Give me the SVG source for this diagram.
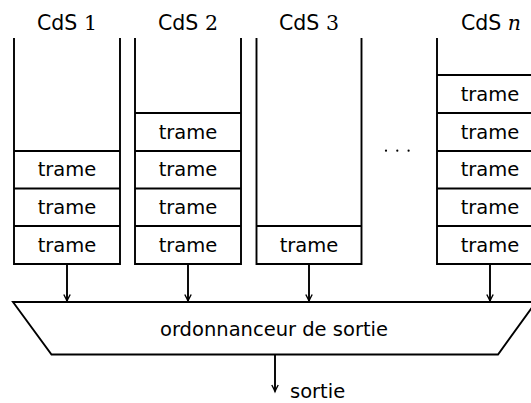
<svg xmlns="http://www.w3.org/2000/svg" width="531" height="403" viewBox="0 0 531 403">
<style>
.ln{fill:none;stroke:#000;stroke-width:1.9;stroke-linecap:butt;stroke-linejoin:miter}
.t{font-family:"DejaVu Sans",sans-serif;font-size:19.5px;fill:#000;text-anchor:middle}
.h{font-size:20.5px}
.m{font-family:"DejaVu Serif","Liberation Serif",serif}
.mi{font-family:"DejaVu Serif","Liberation Serif",serif;font-style:italic}
</style>
<defs>
<marker id="ah" markerUnits="userSpaceOnUse" markerWidth="12" markerHeight="12" viewBox="-6 -10 12 12" refX="0" refY="0" orient="auto-start-reverse" overflow="visible">
<path d="M-3.2,-6.5 Q-0.8,-2 0,0 Q0.8,-2 3.2,-6.5" fill="none" stroke="#000" stroke-width="1.4" transform="rotate(-90)"/>
</marker>
</defs>
<g id="queue1">
<text class="t h" x="67" y="30">CdS <tspan class="m">1</tspan></text>
<path class="ln" d="M14,38 V264 H120 V38"/>
<path class="ln" d="M14,151 H120 M14,188.5 H120 M14,226 H120"/>
<text class="t" x="67" y="176">trame</text>
<text class="t" x="67" y="214">trame</text>
<text class="t" x="67" y="251.5">trame</text>
</g>
<g id="queue2">
<text class="t h" x="188" y="30">CdS <tspan class="m">2</tspan></text>
<path class="ln" d="M135,38 V264 H241 V38"/>
<path class="ln" d="M135,113 H241 M135,151 H241 M135,188.5 H241 M135,226 H241"/>
<text class="t" x="188" y="138.5">trame</text>
<text class="t" x="188" y="176">trame</text>
<text class="t" x="188" y="214">trame</text>
<text class="t" x="188" y="251.5">trame</text>
</g>
<g id="queue3">
<text class="t h" x="309" y="30">CdS <tspan class="m">3</tspan></text>
<path class="ln" d="M256.5,38 V264 H361.5 V38"/>
<path class="ln" d="M256.5,226 H361.5"/>
<text class="t" x="309" y="251.5">trame</text>
</g>
<g id="dots">
<circle cx="386" cy="150.7" r="1.1"/>
<circle cx="397.3" cy="150.7" r="1.1"/>
<circle cx="408.6" cy="150.7" r="1.1"/>
</g>
<g id="queuen">
<text class="t h" x="491" y="30">CdS <tspan class="mi">n</tspan></text>
<path class="ln" d="M437,38 V264 H543 V38"/>
<path class="ln" d="M437,75 H543 M437,113 H543 M437,151 H543 M437,188.5 H543 M437,226 H543"/>
<text class="t" x="490" y="100.5">trame</text>
<text class="t" x="490" y="138.5">trame</text>
<text class="t" x="490" y="176">trame</text>
<text class="t" x="490" y="214">trame</text>
<text class="t" x="490" y="251.5">trame</text>
</g>
<g id="scheduler">
<path class="ln" d="M13,302 H536 L498,354.5 H51.5 Z"/>
<text class="t" x="274" y="336">ordonnanceur de sortie</text>
</g>
<g id="connectors">
<path class="ln" d="M67,264 V301" marker-end="url(#ah)"/>
<path class="ln" d="M188,264 V301" marker-end="url(#ah)"/>
<path class="ln" d="M309,264 V301" marker-end="url(#ah)"/>
<path class="ln" d="M490,264 V301" marker-end="url(#ah)"/>
<path class="ln" d="M275,354.5 V391.5" marker-end="url(#ah)"/>
</g>
<text class="t" x="290" y="398" style="text-anchor:start">sortie</text>
</svg>
